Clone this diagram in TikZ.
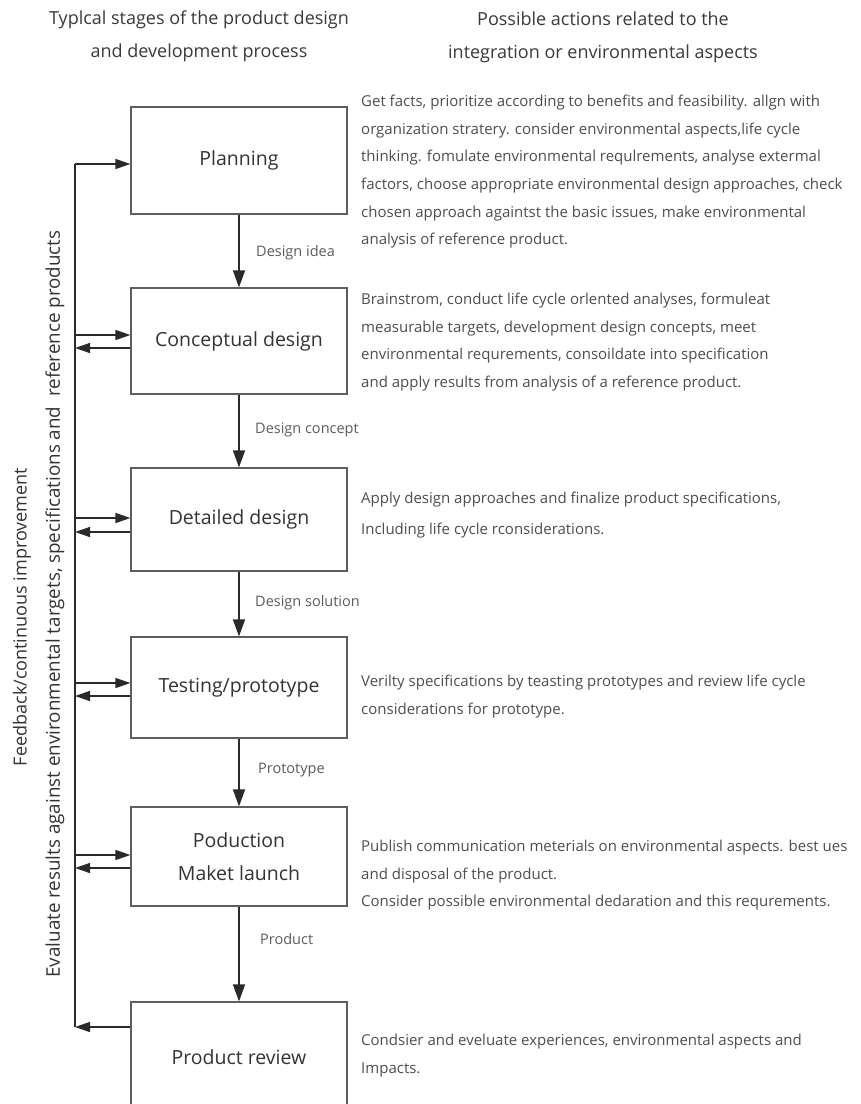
\documentclass[tikz,border=0pt]{standalone}
\usepackage{fontspec}
\setmainfont{Open Sans}
\usetikzlibrary{arrows.meta,calc}
\definecolor{boxline}{HTML}{5E5E5E}
\definecolor{arrowcol}{HTML}{2A2A2A}
\definecolor{boxtext}{HTML}{333333}
\definecolor{desccol}{HTML}{4E4E4E}
\definecolor{labelcol}{HTML}{5C5C5C}
\definecolor{headcol}{HTML}{3A3A3A}
\begin{document}
\begin{tikzpicture}[x=1pt,y=-1pt,
  stagebox/.style={draw=boxline, line width=1.2pt, minimum width=216pt, inner sep=0pt,
    text=boxtext, font=\fontsize{19.5}{33}\selectfont, align=center},
  flow/.style={draw=arrowcol, line width=1.4pt, -{Triangle[length=17pt,width=12pt]}},
  fbline/.style={draw=arrowcol, line width=1.4pt},
  fbarrow/.style={draw=arrowcol, line width=1.4pt, -{Triangle[length=15pt,width=10pt]}},
  flowlabel/.style={text=labelcol, font=\fontsize{14.5}{16}\selectfont, inner sep=0pt, anchor=west},
  desc/.style={text=desccol, font=\fontsize{15}{27.6}\selectfont, align=left, inner sep=0pt, anchor=north west},
  header/.style={text=headcol, font=\fontsize{18}{33}\selectfont, align=center, inner sep=0pt},
  sidetext/.style={text=boxtext, font=\fontsize{18}{20}\selectfont, inner sep=0pt, rotate=90}]
\clip (0,0) rectangle (861,1104);
\fill[white] (0,0) rectangle (861,1104);

% column headings
\node[header] (hleft) at (199,36) {Typlcal stages of the product design\\and development process};
\node[header] (hright) at (603,37) {Possible actions related to the\\integration or environmental aspects};

% stages of the process
\node[stagebox, minimum height=107pt] (plan) at (239,160.5) {Planning};
\node[stagebox, minimum height=106pt] (conc) at (239,341) {Conceptual design};
\node[stagebox, minimum height=103pt] (det) at (239,519.5) {Detailed design};
\node[stagebox, minimum height=101pt] (test) at (239,687.5) {Testing/prototype};
\node[stagebox, minimum height=99pt] (prod) at (239,856.5) {Poduction\\Maket launch};
\node[stagebox, minimum height=110pt] (rev) at (239,1057) {Product review};

% flow between stages
\draw[flow] (plan.south) -- (conc.north);
\draw[flow] (conc.south) -- (det.north);
\draw[flow] (det.south) -- (test.north);
\draw[flow] (test.south) -- (prod.north);
\draw[flow] (prod.south) -- (rev.north);
\node[flowlabel] (l1) at (256,253) {Design idea};
\node[flowlabel] (l2) at (255,430) {Design concept};
\node[flowlabel] (l3) at (255,603) {Design solution};
\node[flowlabel] (l4) at (258,770) {Prototype};
\node[flowlabel] (l5) at (260,939) {Product};

% feedback loop on the left
\coordinate (fbtop) at (75,164);
\coordinate (fbbot) at (75,1027);
\draw[fbline] (fbbot) -- (fbtop);
\draw[fbarrow] (fbtop) -- (fbtop -| plan.west);
\coordinate (cin) at (75,335);
\coordinate (cout) at (75,348);
\draw[fbarrow] (cin) -- (cin -| conc.west);
\draw[fbarrow] (cout -| conc.west) -- (cout);
\coordinate (din) at (75,518);
\coordinate (dout) at (75,532);
\draw[fbarrow] (din) -- (din -| det.west);
\draw[fbarrow] (dout -| det.west) -- (dout);
\coordinate (tin) at (75,683);
\coordinate (tout) at (75,696);
\draw[fbarrow] (tin) -- (tin -| test.west);
\draw[fbarrow] (tout -| test.west) -- (tout);
\coordinate (pin) at (75,855);
\coordinate (pout) at (75,868);
\draw[fbarrow] (pin) -- (pin -| prod.west);
\draw[fbarrow] (pout -| prod.west) -- (pout);
\draw[fbarrow] (fbbot -| rev.west) -- (fbbot);

\node[sidetext] (fbtxt) at (22,617) {Feedback/continuous improvement};
\node[sidetext, font=\fontsize{18.8}{20}\selectfont] (evtxt) at (55,604) {Evaluate results against environmental targets, specifications and\ \ reference products};

% possible actions for each stage
\node[desc] (dplan) at (361,95) {Get facts, prioritize according to benefits and feasibility. allgn with\\
organization stratery. consider environmental aspects,life cycle\\
thinking. fomulate environmental requlrements, analyse extermal\\
factors, choose appropriate environmental design approaches, check\\
chosen approach againtst the basic issues, make environmental\\
analysis of reference product.};
\node[desc] (dconc) at (361,293) {Brainstrom, conduct life cycle orlented analyses, formuleat\\
measurable targets, development design concepts, meet\\
environmental requrements, consoildate into specification\\
and apply results from analysis of a reference product.};
\node[desc, font=\fontsize{15}{31}\selectfont] (ddet) at (361,492) {Apply design approaches and finalize product specifications,\\
Including life cycle rconsiderations.};
\node[desc] (dtest) at (361,675) {Verilty specifications by teasting prototypes and review life cycle\\
considerations for prototype.};
\node[desc] (dprod) at (361,840) {Publish communication meterials on environmental aspects. best ues\\
and disposal of the product.\\
Consider possible environmental dedaration and this requrements.};
\node[desc] (drev) at (361,1034) {Condsier and eveluate experiences, environmental aspects and\\
Impacts.};
\end{tikzpicture}
\end{document}
